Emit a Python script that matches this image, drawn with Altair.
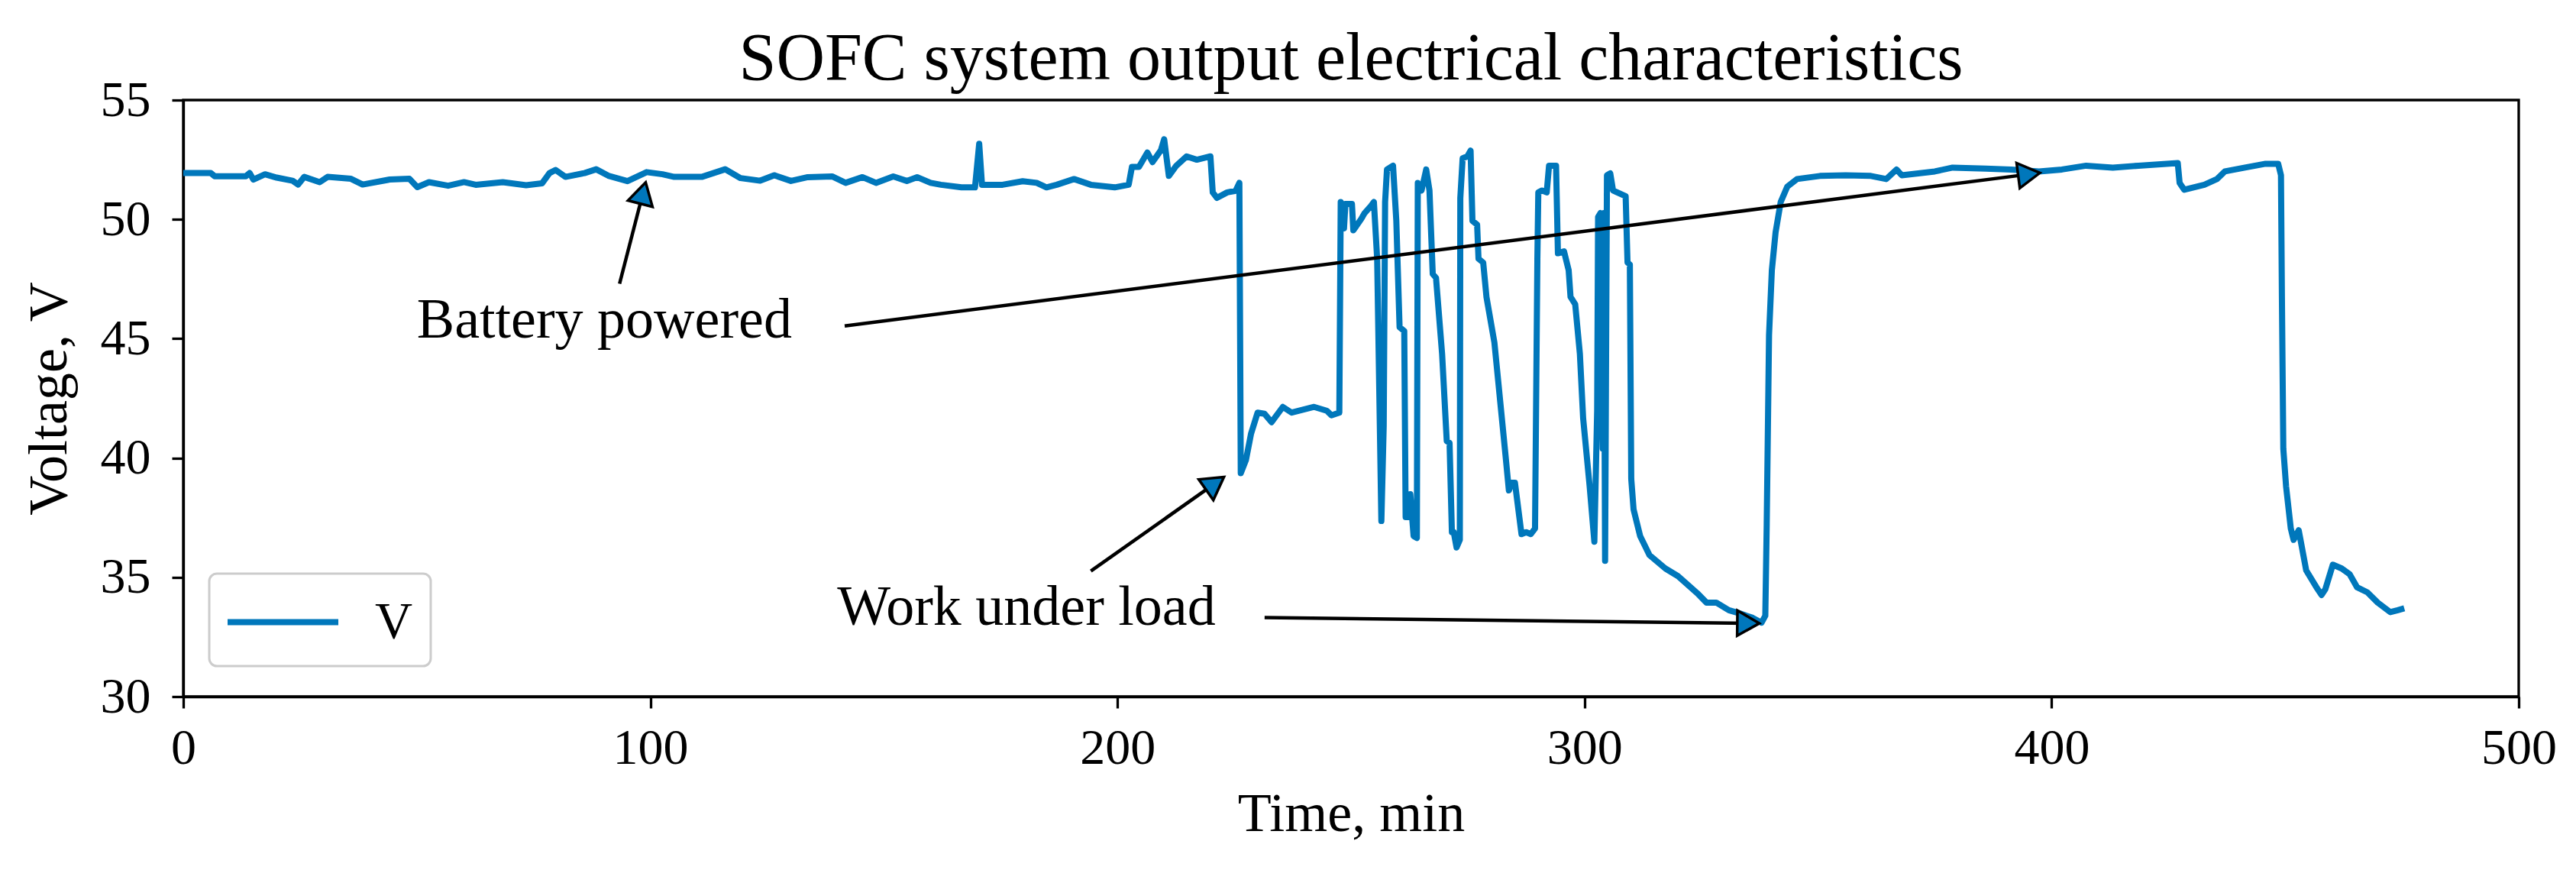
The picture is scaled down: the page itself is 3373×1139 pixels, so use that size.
import math
import altair as alt
import pandas as pd

# ---------------- data ----------------
time_min = [
    0, 5.9, 6.7, 13.4, 14.2, 15.0, 17.5, 20, 23.4, 24.6, 25.9, 29.2, 30.9, 35.9, 38.4, 44.2,
    48.4, 50.1, 52.6, 56.7, 60.1, 62.6, 68.4, 73.4, 76.8, 78.4, 79.7, 81.8, 85.9, 88.4, 91,
    95.1, 99.2, 102.6, 105.1, 111, 116, 119.3, 123.5,
    126.5, 130.1, 133.7, 138.9, 141.8, 145.4, 148.3, 152, 154.9, 157.1, 160, 162.2, 166.6,
    169.5, 170.4, 171, 175.4, 179.7, 182.7, 184.8, 187, 190.7, 194.3, 199.4, 202.4,
    203.1, 204.6, 206.4, 207.5, 209.3, 210, 211,
    212.6, 214.8, 217, 219.9, 220.4, 221.3, 223.5, 225.3, 226.1, 226.4, 227.5, 228.6, 230,
    231.5, 233, 235.4, 237.3, 242.1, 244.8, 245.8, 247.5, 247.8, 248.5, 248.8, 250.2, 250.5,
    252.2, 252.9, 254.3, 254.9, 255.6, 256.5, 257, 257.3, 257.7, 259, 259.7, 260.4, 261.4,
    261.7, 262.4, 262.7, 263.4, 264.1, 264.3, 265.1, 266.1, 266.8, 267.5, 268.2, 269.5,
    270.5, 271.1, 271.6, 272, 272.6, 273.3, 273.4, 273.9, 274.9, 275.6, 276, 277, 277.3,
    278.3, 279, 280.7, 283.1, 283.8, 284.4, 285.1, 286.5, 287.5, 288.5, 289.4, 289.9, 290.1,
    290.9, 291.9, 292.4, 293.9, 294.3, 295.6, 296.6, 297, 298, 299, 299.7, 301.1, 302.1,
    302.7, 302.9, 303.4, 303.9, 304.1, 304.4, 304.8, 305.5, 306.1, 308.8, 309.2, 309.7, 310,
    310.5, 311.9, 313.9, 317.3, 320, 324.1, 326.1, 328.2, 330.9, 333, 336, 337.9, 338.7, 339,
    339.3, 339.5, 340.1, 340.9, 342, 343.4, 345.5, 350.4, 355.9, 361.3, 364.6, 366.8, 367.9,
    375, 378.8, 385.9, 391.3, 397.3, 402.2, 407.4, 413.1, 418.6, 427, 427.4, 428.4, 432.7,
    435.4, 437.1, 441.4, 445.8, 448.5, 449.1, 449.3, 449.6, 450.2, 451.2, 451.8, 452.9, 454.5,
    456.7, 457.8, 458.6, 460.2, 462.1, 463.8, 465.4, 467.6, 469.8, 472.5, 474.1, 475.5,
]
voltage = [
    51.94, 51.94, 51.81, 51.81, 51.94, 51.67, 51.89, 51.75, 51.62, 51.46, 51.78, 51.56, 51.78,
    51.7, 51.46, 51.67, 51.7, 51.35, 51.56, 51.41, 51.56, 51.45, 51.56, 51.43, 51.51, 51.94,
    52.07, 51.78, 51.94, 52.1, 51.83, 51.6, 51.98, 51.89, 51.78, 51.78, 52.1, 51.73, 51.62,
    51.85, 51.61, 51.77, 51.8, 51.53, 51.77, 51.53, 51.8, 51.61, 51.77, 51.53, 51.45, 51.34,
    51.34, 53.17, 51.45, 51.45, 51.6, 51.53, 51.34, 51.45, 51.69, 51.45, 51.34, 51.45,
    52.2, 52.2, 52.8, 52.4, 52.9, 53.36, 51.82,
    52.25, 52.64, 52.5, 52.64, 51.13, 50.9, 51.13, 51.2, 51.53, 39.36, 39.91,
    41.02, 41.9, 41.85, 41.5, 42.14, 41.9, 42.14, 41.98, 41.79, 41.9, 50.73, 49.62, 50.65,
    50.65, 49.54, 50.02, 50.26, 50.57, 50.73, 48.35, 37.36, 41.34, 50.73, 52.09, 52.25, 49.94,
    45.48, 45.32, 37.52, 37.52, 38.48, 36.73, 36.65, 51.53, 51.21, 52.09, 51.21, 47.71, 47.55,
    44.37, 40.71, 40.63, 36.89, 36.89, 36.25, 36.57, 50.89, 52.56, 52.64, 52.88, 49.94, 49.78,
    48.35, 48.19, 46.75, 44.84, 40.07, 38.64, 38.96, 38.96, 36.81, 36.89, 36.81, 37.05, 48.35,
    51.13, 51.21, 51.13, 52.25, 52.25, 48.58, 48.66, 47.87, 46.75, 46.44, 44.37, 41.66, 38.8,
    36.49, 41.98, 50.1, 50.26, 40.39, 50.26, 35.69, 51.85, 51.93, 51.21, 50.97, 48.19, 48.11,
    39.12, 37.84, 36.73, 35.93, 35.37, 35.05, 34.34, 33.94, 33.94, 33.62, 33.5, 33.3, 33.1,
    33.39, 37.2, 41.98, 45.16, 47.87, 49.46, 50.73, 51.37, 51.69, 51.82, 51.85, 51.82, 51.69,
    52.09, 51.85, 52.01, 52.17, 52.13, 52.09, 52.01, 52.09, 52.25, 52.17, 52.25, 52.36, 51.53,
    51.24, 51.45, 51.69, 52.01, 52.17, 52.33, 52.33, 51.85, 46.75, 40.39, 38.8, 37.05, 36.57,
    36.97, 35.29, 34.58, 34.26, 34.5, 35.53, 35.37, 35.13, 34.58, 34.37, 33.94, 33.54, 33.62,
    33.7,
]
series_name = "V"

title_text = "SOFC system output electrical characteristics"
x_title = "Time, min"
y_title = "Voltage, V"
x_ticks = [0, 100, 200, 300, 400, 500]
y_ticks = [30, 35, 40, 45, 50, 55]
x_domain = [0, 500]
y_domain = [30, 55]

note_labels = ["Battery powered", "Work under load"]
note_x = [50, 140]
note_y = [45.05, 33.0]

arrow_from_x = [93.4, 141.6, 194.3, 231.5]
arrow_from_y = [47.3, 45.53, 35.26, 33.31]
arrow_to_x = [99.0, 397.5, 222.8, 337.4]
arrow_to_y = [51.55, 51.95, 39.2, 33.07]

# ---------------- styling ----------------
BLUE = "#0077BB"
FONT = "Liberation Serif"
W, H = 3058, 781
HEAD_SIZE = 1100

df = pd.DataFrame({"t": time_min, "v": voltage})
df["i"] = range(len(df))
df["series"] = series_name

# arrowhead placement (screen-space direction through the chart's linear scales)
kx = W / (x_domain[1] - x_domain[0])
ky = H / (y_domain[1] - y_domain[0])
r = math.sqrt(HEAD_SIZE) / 2
h = math.sqrt(3) / 2 * r
rows = []
for x0, y0, x1, y1 in zip(arrow_from_x, arrow_from_y, arrow_to_x, arrow_to_y):
    dxp = (x1 - x0) * kx
    dyp = -(y1 - y0) * ky
    L = math.hypot(dxp, dyp)
    ux, uy = dxp / L, dyp / L
    cx = x1 - h * ux / kx
    cy = y1 + h * uy / ky
    ang = math.degrees(math.atan2(ux, -uy)) % 360
    rows.append({"x0": x0, "y0": y0, "cx": cx, "cy": cy, "ang": ang})
arrows = pd.DataFrame(rows)
notes = pd.DataFrame({"label": note_labels, "x": note_x, "y": note_y})

xscale = alt.Scale(domain=x_domain, nice=False, zero=False)
yscale = alt.Scale(domain=y_domain, nice=False, zero=False)

x_axis = alt.Axis(values=x_ticks, title=x_title, format="d", labelPadding=20,
                  titlePadding=18)
y_axis = alt.Axis(values=y_ticks, title=y_title, format="d", labelPadding=28,
                  titlePadding=30)

line = alt.Chart(df).mark_line(strokeWidth=8, strokeJoin="round").encode(
    x=alt.X("t:Q", scale=xscale, axis=x_axis),
    y=alt.Y("v:Q", scale=yscale, axis=y_axis),
    order=alt.Order("i:Q"),
    color=alt.Color(
        "series:N",
        scale=alt.Scale(range=[BLUE]),
        legend=alt.Legend(
            title=None, orient="none", legendX=34, legendY=620,
            symbolType="M-2,0H2", symbolSize=5256, symbolStrokeWidth=8,
            symbolOffset=33, labelOffset=80, labelFontSize=68, labelFont=FONT,
            labelColor="black",
        ),
    ),
)

arrow_lines = alt.Chart(arrows).mark_rule(color="black", strokeWidth=4.5).encode(
    x=alt.X("x0:Q", scale=xscale), y=alt.Y("y0:Q", scale=yscale),
    x2="cx:Q", y2="cy:Q",
)
arrow_heads = alt.Chart(arrows).mark_point(
    shape="triangle-up", filled=True, fill=BLUE, stroke="black", strokeWidth=3.5,
    size=HEAD_SIZE, opacity=1,
).encode(
    x=alt.X("cx:Q", scale=xscale), y=alt.Y("cy:Q", scale=yscale),
    angle=alt.Angle("ang:Q", scale=None),
)
note_text = alt.Chart(notes).mark_text(
    align="left", baseline="alphabetic", fontSize=74, font=FONT, color="black",
).encode(
    x=alt.X("x:Q", scale=xscale), y=alt.Y("y:Q", scale=yscale), text="label:N",
)

chart = alt.layer(line, arrow_lines, arrow_heads, note_text).properties(
    width=W, height=H,
    title=alt.TitleParams(title_text, fontSize=88, font=FONT, fontWeight="normal",
                          anchor="middle", offset=-24, color="black"),
    autosize=alt.AutoSizeParams(type="none"),
    padding={"left": 232, "top": 123, "right": 67, "bottom": 219},
).configure_view(
    stroke="black", strokeWidth=3.3,
).configure_axis(
    labelFont=FONT, titleFont=FONT, labelFontSize=66, titleFontSize=72,
    titleFontWeight="normal", labelColor="black", titleColor="black",
    domainColor="black", domainWidth=3.3, tickColor="black", tickWidth=3.3,
    tickSize=15, grid=False, labelFlush=False,
).configure_legend(
    padding=23, strokeColor="#cccccc", strokeWidth=3,
    fillColor="rgba(255,255,255,0.8)", cornerRadius=10,
)

chart.save("out.html", embed_options={"renderer": "svg", "actions": False})
